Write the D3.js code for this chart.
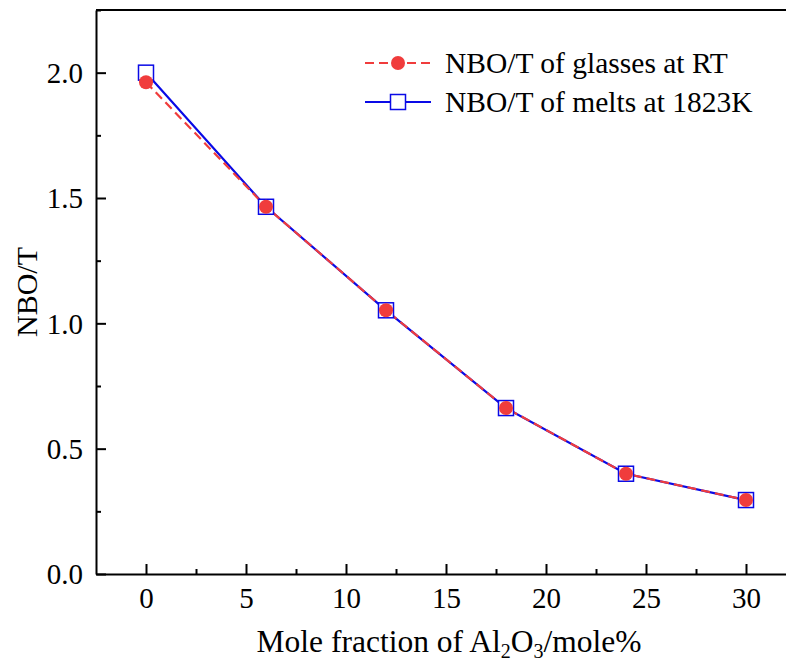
<!DOCTYPE html>
<html>
<head>
<meta charset="utf-8">
<style>
  body { margin: 0; background: #fff; }
</style>
</head>
<body>
<div id="chart"></div>
<script src="https://d3js.org/d3.v7.min.js"></script>
<script>
// data
const molePct = [0, 6, 12, 18, 24, 30];
const nbotGlasses = [1.962, 1.465, 1.052, 0.662, 0.400, 0.295];
const nbotMelts = [2.0, 1.465, 1.052, 0.662, 0.400, 0.295];
const xTicks = [0, 5, 10, 15, 20, 25, 30];
const yTicks = [0.0, 0.5, 1.0, 1.5, 2.0];

const width = 786, height = 665;
const margin = {top: 10, left: 96, bottom: 91};
const red = "#f03c3c", blue = "#0a0ae6";
const serif = "Liberation Serif";
const tickFont = 29;

const x = d3.scaleLinear().domain([-2.5, 32.5]).range([margin.left, margin.left + 700]);
const y = d3.scaleLinear().domain([0, 2.25]).range([height - margin.bottom, margin.top]);

const svg = d3.select("#chart").append("svg")
    .attr("width", width)
    .attr("height", height)
    .style("display", "block");

// x axis (ticks pointing in)
const gx = svg.append("g")
    .attr("transform", `translate(0,${y(0)})`)
    .call(d3.axisBottom(x).tickValues(xTicks).tickSize(-10).tickSizeOuter(0).tickPadding(0));
gx.selectAll("text").attr("y", 34).attr("dy", 0);
svg.append("g")
    .attr("transform", `translate(0,${y(0)})`)
    .call(d3.axisBottom(x).tickValues(d3.range(2.5, 33, 5)).tickSize(-5).tickFormat("").tickSizeOuter(0))
    .call(g => g.select(".domain").remove());

// y axis
const gy = svg.append("g")
    .attr("transform", `translate(${margin.left},0)`)
    .call(d3.axisLeft(y).tickValues(yTicks).tickFormat(d3.format(".1f")).tickSize(-10).tickSizeOuter(0).tickPadding(13));
gy.selectAll("text").attr("dy", "0.34em");
svg.append("g")
    .attr("transform", `translate(${margin.left},0)`)
    .call(d3.axisLeft(y).tickValues(d3.range(0.25, 2.3, 0.5)).tickSize(-5).tickFormat("").tickSizeOuter(0))
    .call(g => g.select(".domain").remove());

svg.selectAll(".domain, .tick line").attr("stroke", "#000").attr("stroke-width", 2);
svg.selectAll(".tick text").attr("fill", "#000").attr("font-size", tickFont).attr("font-family", serif);

// top border
svg.append("line")
    .attr("x1", margin.left).attr("x2", x(32.5))
    .attr("y1", y(2.25)).attr("y2", y(2.25))
    .attr("stroke", "#000").attr("stroke-width", 2);

// axis titles
const xt = svg.append("text")
    .attr("x", 449)
    .attr("y", 652)
    .attr("text-anchor", "middle")
    .attr("font-family", serif)
    .attr("font-size", 31.5);
xt.append("tspan").text("Mole fraction of Al");
xt.append("tspan").attr("font-size", 20).attr("dy", 6).text("2");
xt.append("tspan").attr("dy", -6).text("O");
xt.append("tspan").attr("font-size", 20).attr("dy", 6).text("3");
xt.append("tspan").attr("dy", -6).text("/mole%");

svg.append("text")
    .attr("transform", `translate(37,${(y(0) + y(2.25)) / 2}) rotate(-90)`)
    .attr("text-anchor", "middle")
    .attr("font-family", serif)
    .attr("font-size", 30)
    .text("NBO/T");

// series
const ptsG = molePct.map((m, i) => [m, nbotGlasses[i]]);
const ptsM = molePct.map((m, i) => [m, nbotMelts[i]]);
const line = d3.line().x(d => x(d[0])).y(d => y(d[1]));

svg.append("path")
    .attr("d", line(ptsM))
    .attr("fill", "none").attr("stroke", blue).attr("stroke-width", 2.2);
svg.append("path")
    .attr("d", line(ptsG))
    .attr("fill", "none").attr("stroke", red).attr("stroke-width", 2.2)
    .attr("stroke-dasharray", "9,5");

svg.append("g").selectAll("rect")
    .data(ptsM)
    .join("rect")
    .attr("x", d => x(d[0]) - 7.5).attr("y", d => y(d[1]) - 7.5)
    .attr("width", 15).attr("height", 15)
    .attr("fill", "#fff").attr("stroke", blue).attr("stroke-width", 1.5);

svg.append("g").selectAll("circle")
    .data(ptsG)
    .join("circle")
    .attr("cx", d => x(d[0])).attr("cy", d => y(d[1]))
    .attr("r", 7)
    .attr("fill", red);

// legend
const legend = svg.append("g");
const items = [
  {label: "NBO/T of glasses at RT", color: red, dash: "9,5", mark: "circle", y: 63},
  {label: "NBO/T of melts at 1823K", color: blue, dash: null, mark: "square", y: 102}
];
items.forEach(it => {
  legend.append("line")
      .attr("x1", 365).attr("x2", 431)
      .attr("y1", it.y).attr("y2", it.y)
      .attr("stroke", it.color).attr("stroke-width", 2.2)
      .attr("stroke-dasharray", it.dash);
  if (it.mark === "circle") {
    legend.append("circle").attr("cx", 398).attr("cy", it.y).attr("r", 7).attr("fill", it.color);
  } else {
    legend.append("rect")
        .attr("x", 390.5).attr("y", it.y - 7.5).attr("width", 15).attr("height", 15)
        .attr("fill", "#fff").attr("stroke", it.color).attr("stroke-width", 1.5);
  }
  legend.append("text")
      .attr("x", 445).attr("y", it.y).attr("dy", "0.34em")
      .attr("font-family", serif)
      .attr("font-size", 29.5)
      .text(it.label);
});
</script>
</body>
</html>
